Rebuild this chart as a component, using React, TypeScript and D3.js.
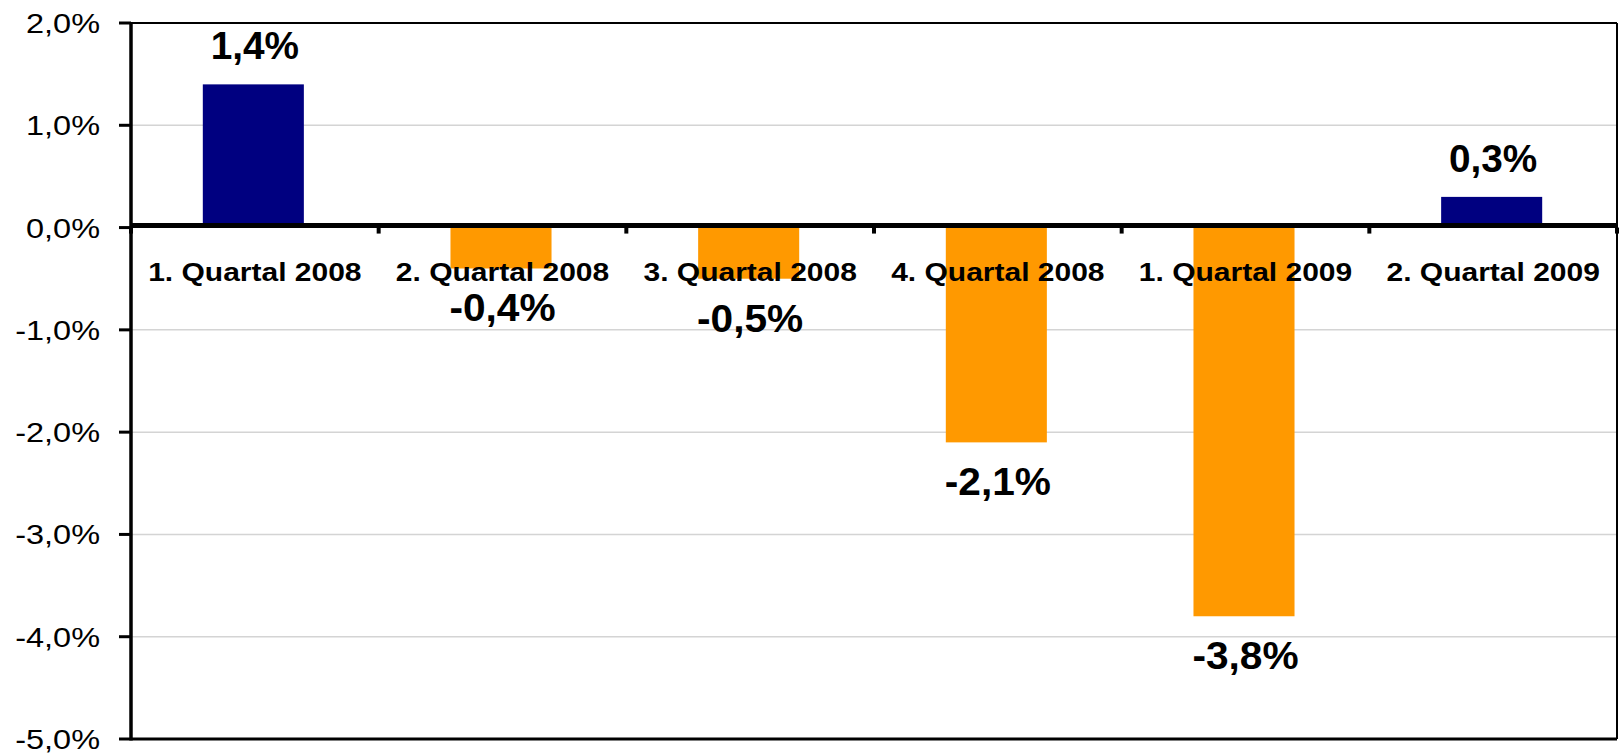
import React from "react";
import * as d3 from "d3";

const categories = [
  "1. Quartal 2008",
  "2. Quartal 2008",
  "3. Quartal 2008",
  "4. Quartal 2008",
  "1. Quartal 2009",
  "2. Quartal 2009",
];
const values = [1.4, -0.4, -0.5, -2.1, -3.8, 0.3];
const yTicks = [2, 1, 0, -1, -2, -3, -4, -5];

const POS_COLOR = "#000080";
const NEG_COLOR = "#FF9900";
const FONT = "Arial, 'Liberation Sans', sans-serif";

const W = 1619;
const H = 754;

// German number format: decimal comma, plain hyphen as minus
const de = d3.formatLocale({
  decimal: ",",
  thousands: ".",
  grouping: [3],
  currency: ["", " €"],
  minus: "-",
});
const fmt = de.format(".1f");

export default function App() {
  const plot = { left: 131, right: 1617, top: 23, bottom: 739 };

  const x = d3
    .scaleBand<string>()
    .domain(categories)
    .range([plot.left, plot.right])
    .padding(0);
  const y = d3.scaleLinear().domain([-5, 2]).range([plot.bottom, plot.top]);

  const barW = x.bandwidth() * 0.408;
  const y0 = y(0);

  // category boundaries for the small ticks under the zero line
  const bounds = categories.map((c) => x(c) as number).concat([plot.right]);

  return (
    <svg
      width={W}
      height={H}
      style={{ position: "absolute", left: 0, top: 0, background: "#fff" }}
      fontFamily={FONT}
    >
      {/* gridlines */}
      {yTicks
        .filter((t) => t !== 0 && t !== 2 && t !== -5)
        .map((t) => (
          <line
            key={"g" + t}
            x1={plot.left}
            x2={plot.right}
            y1={y(t)}
            y2={y(t)}
            stroke="#d4d4d4"
            strokeWidth={1.5}
          />
        ))}

      {/* bars */}
      {values.map((v, i) => {
        const cx = (x(categories[i]) as number) + x.bandwidth() / 2;
        return (
          <rect
            key={"b" + i}
            x={cx - barW / 2 - 1.5}
            y={Math.min(y(v), y0)}
            width={barW}
            height={Math.abs(y(v) - y0)}
            fill={v >= 0 ? POS_COLOR : NEG_COLOR}
          />
        );
      })}

      {/* plot border */}
      <line x1={plot.left} x2={plot.right} y1={plot.top} y2={plot.top} stroke="#000" strokeWidth={2} />
      <line x1={plot.right} x2={plot.right} y1={plot.top} y2={plot.bottom} stroke="#000" strokeWidth={2} />
      <line x1={plot.left} x2={plot.right} y1={plot.bottom} y2={plot.bottom} stroke="#000" strokeWidth={3} />
      <line x1={plot.left} x2={plot.left} y1={plot.top} y2={plot.bottom + 1.5} stroke="#000" strokeWidth={3.5} />

      {/* zero line + ticks */}
      <line x1={plot.left} x2={plot.right} y1={y0 - 2} y2={y0 - 2} stroke="#000" strokeWidth={5} />
      {bounds.map((bx, i) => (
        <line key={"xt" + i} x1={bx} x2={bx} y1={y0} y2={y0 + 6} stroke="#000" strokeWidth={4} />
      ))}

      {/* y axis ticks and labels */}
      {yTicks.map((t) => (
        <g key={"yt" + t}>
          <line x1={119} x2={plot.left} y1={y(t)} y2={y(t)} stroke="#000" strokeWidth={3} />
          <text
            transform={`translate(100,${y(t) + 10}) scale(1.16,1)`}
            textAnchor="end"
            fontSize={28}
            fill="#000"
          >
            {fmt(t) + "%"}
          </text>
        </g>
      ))}

      {/* category labels */}
      {categories.map((c) => (
        <text
          key={"c" + c}
          transform={`translate(${(x(c) as number) + x.bandwidth() / 2},281) scale(1.2,1)`}
          textAnchor="middle"
          fontSize={25}
          fontWeight="bold"
          fill="#000"
        >
          {c}
        </text>
      ))}

      {/* value labels */}
      {values.map((v, i) => {
        const cx = (x(categories[i]) as number) + x.bandwidth() / 2;
        const ly = v >= 0 ? y(v) - 25 : y(v) + 53;
        return (
          <text
            key={"l" + i}
            transform={`translate(${cx},${ly}) scale(${v >= 0 ? 1.02 : 1.07},1)`}
            textAnchor="middle"
            fontSize={38}
            fontWeight="bold"
            fill="#000"
          >
            {fmt(v) + "%"}
          </text>
        );
      })}
    </svg>
  );
}
